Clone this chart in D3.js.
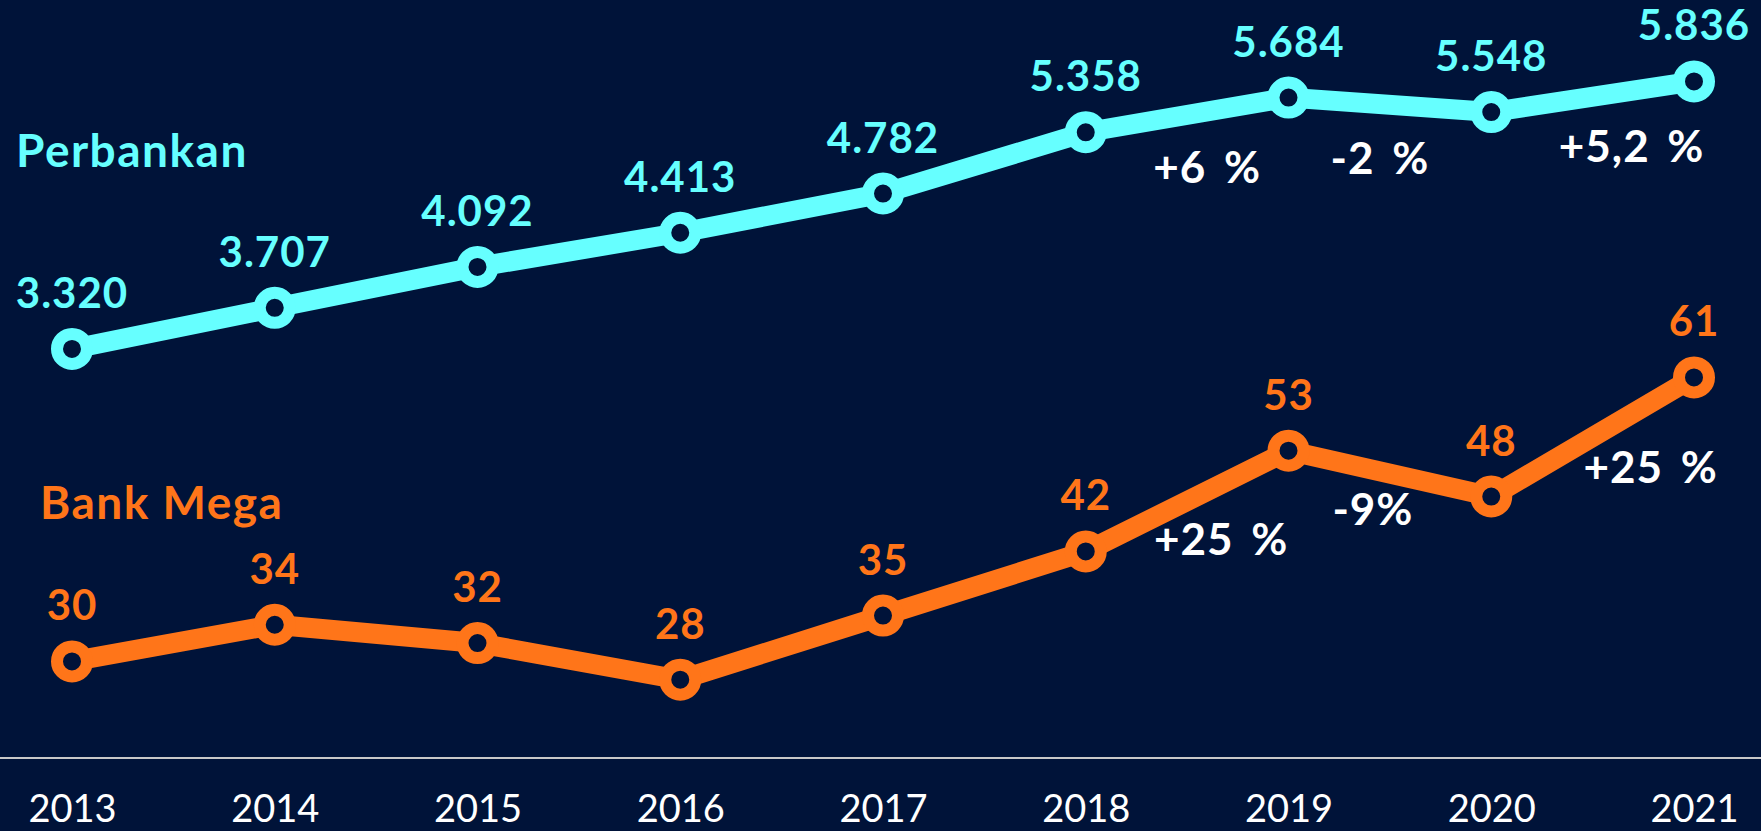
<!DOCTYPE html>
<html>
<head>
<meta charset="utf-8">
<script src="https://cdn.jsdelivr.net/npm/d3@7"></script>
<style>
  html, body { margin: 0; padding: 0; background: #001339; overflow: hidden; }
  svg { display: block; }
</style>
</head>
<body>
<svg id="chart"></svg>
<script>
const years = ["2013", "2014", "2015", "2016", "2017", "2018", "2019", "2020", "2021"];
const perbankan = [3320, 3707, 4092, 4413, 4782, 5358, 5684, 5548, 5836];
const bankMega = [30, 34, 32, 28, 35, 42, 53, 48, 61];

// growth labels, placed on the segment that starts at "from"
const perbankanChanges = [
    { from: "2018", text: "+6 %" },
    { from: "2019", text: "-2 %" },
    { from: "2020", text: "+5,2 %" }
];
const megaChanges = [
    { from: "2018", text: "+25 %" },
    { from: "2019", text: "-9%" },
    { from: "2020", text: "+25 %" }
];

const width = 1761, height = 831;
const bg = "#001339";
const cyan = "#66FFFF";
const orange = "#FF7519";
const font = "Lato, 'Open Sans', sans-serif";

const svg = d3.select("#chart").attr("width", width).attr("height", height);
svg.append("rect").attr("width", width).attr("height", height).attr("fill", bg);

const x = d3.scalePoint().domain(years).range([72, 1694]);
const yBank = d3.scaleLinear().domain([3000, 6000]).range([383, 64]);
const yMega = d3.scaleLinear().domain([20, 70]).range([753, 295]);

// baseline + year labels
svg.append("line")
    .attr("x1", 0).attr("x2", width)
    .attr("y1", 758).attr("y2", 758)
    .attr("stroke", "#c8c8c8").attr("stroke-width", 2);

const xAxis = d3.axisBottom(x).tickSize(0).tickPadding(0);
const axisG = svg.append("g").attr("transform", "translate(0,822)").call(xAxis);
axisG.select(".domain").remove();
axisG.selectAll("text")
    .attr("dy", 0)
    .attr("fill", "#ffffff")
    .style("font-family", font)
    .style("font-size", "38px");

// change label offsets (relative to segment midpoint)
const bankOffsets = [[20, 68], [-10, 69], [39, 65]];
const megaOffsets = [[34, 54], [-17, 51], [58, 46]];

const drawSeries = (values, y, color, name, nameX, nameY, changes, offsets) => {
    const pts = years.map((yr, i) => ({ yr, v: values[i] }));
    const g = svg.append("g");

    g.append("path")
        .datum(pts)
        .attr("fill", "none")
        .attr("stroke", color)
        .attr("stroke-width", 20)
        .attr("stroke-linejoin", "round")
        .attr("d", d3.line().x(d => x(d.yr)).y(d => y(d.v)));

    g.selectAll("circle")
        .data(pts)
        .enter().append("circle")
        .attr("cx", d => x(d.yr))
        .attr("cy", d => y(d.v))
        .attr("r", 15)
        .attr("fill", bg)
        .attr("stroke", color)
        .attr("stroke-width", 12);

    g.selectAll("text.val")
        .data(pts)
        .enter().append("text")
        .attr("class", "val")
        .attr("x", d => x(d.yr))
        .attr("y", d => y(d.v) - 41)
        .attr("text-anchor", "middle")
        .attr("fill", color)
        .style("font-family", font)
        .style("font-weight", 700)
        .style("font-size", "42px")
        .style("letter-spacing", "1px")
        .text(d => d.v >= 1000 ? d3.format(",")(d.v).replace(",", ".") : d.v);

    g.append("text")
        .attr("x", nameX).attr("y", nameY)
        .attr("fill", color)
        .style("font-family", font)
        .style("font-weight", 700)
        .style("font-size", "46px")
        .style("letter-spacing", "1.5px")
        .text(name);

    g.selectAll("text.chg")
        .data(changes)
        .enter().append("text")
        .attr("class", "chg")
        .attr("x", (d, i) => {
            const a = years.indexOf(d.from);
            return (x(years[a]) + x(years[a + 1])) / 2 + offsets[i][0];
        })
        .attr("y", (d, i) => {
            const a = years.indexOf(d.from);
            return (y(values[a]) + y(values[a + 1])) / 2 + offsets[i][1];
        })
        .attr("text-anchor", "middle")
        .attr("fill", "#ffffff")
        .style("font-family", font)
        .style("font-weight", 700)
        .style("font-size", "44px")
        .style("letter-spacing", "1px")
        .style("word-spacing", "6px")
        .text(d => d.text);
};

drawSeries(perbankan, yBank, cyan, "Perbankan", 16, 167, perbankanChanges, bankOffsets);
drawSeries(bankMega, yMega, orange, "Bank Mega", 40, 519, megaChanges, megaOffsets);
</script>
</body>
</html>
